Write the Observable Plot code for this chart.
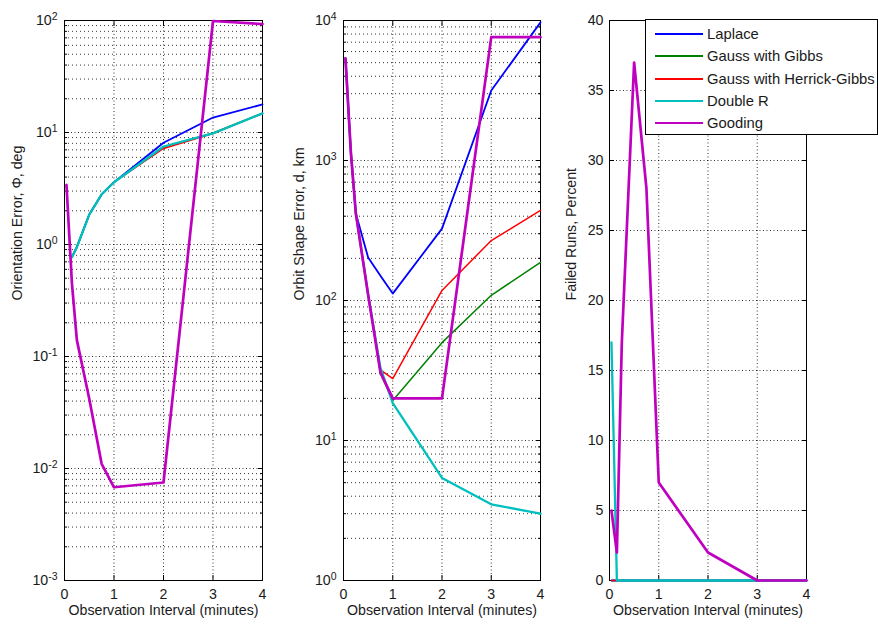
<!DOCTYPE html>
<html>
<head>
<meta charset="utf-8">
<script src="https://cdn.jsdelivr.net/npm/d3@7"></script>
<script src="https://cdn.jsdelivr.net/npm/@observablehq/plot@0.6"></script>
<style>
  html, body { margin: 0; padding: 0; background: #fff; }
  #chart { position: relative; width: 878px; height: 624px; background: #fff; font-family: 'Liberation Sans', Arial, sans-serif; }
  #chart svg { position: absolute; top: 0; }
  .legend { position: absolute; background: #fff; border: 1px solid #000; box-sizing: border-box; font-size: 14.8px; color: #1a1a1a; }
  .legend .row { position: absolute; left: 0; height: 22px; display: flex; align-items: center; white-space: nowrap; }
  .legend .sw { width: 48px; height: 2px; margin-left: 9px; margin-right: 4px; }
</style>
</head>
<body>
<div id="chart"></div>
<script>
// ---------- data ----------
const X = [0.04, 0.15, 0.25, 0.5, 0.75, 1, 2, 3, 4];            // observation interval, minutes
const X_TICKS = [0, 1, 2, 3, 4];
const METHODS = ["Laplace", "Gauss with Gibbs", "Gauss with Herrick-Gibbs", "Double R", "Gooding"];

// Orientation error, deg
const orientLaplace = [null, 0.77, 0.95, 1.85, 2.8, 3.6, 8.1, 13.6, 17.8];
const orientGibbs   = [null, 0.77, 0.95, 1.85, 2.8, 3.6, 7.4, 9.9, 14.9];
const orientHG      = [null, 0.77, 0.95, 1.85, 2.8, 3.6, 7.2, 9.8, 14.8];
const orientDoubleR = [null, 0.77, 0.95, 1.85, 2.8, 3.6, 7.5, 9.8, 14.8];
const orientGooding = [3.4, 0.45, 0.14, 0.042, 0.011, 0.0068, 0.0075, 99, 93];

// Orbit shape error, km
const shapeLaplace = [5370, 1140, 420, 203, 150, 112, 326, 3160, 9700];
const shapeGibbs   = [5370, 1140, 420, 110, 30, 19.3, 50, 109, 187];
const shapeHG      = [5370, 1140, 420, 110, 32, 27.7, 118, 268, 440];
const shapeDoubleR = [5370, 1140, 420, 110, 33, 18.5, 5.4, 3.5, 3.0];
const shapeGooding = [5370, 1140, 420, 110, 30.6, 20, 20, 7600, 7600];

// Failed runs, percent
const failLaplace = [0, 0, 0, 0, 0, 0, 0, 0, 0];
const failGibbs   = [0, 0, 0, 0, 0, 0, 0, 0, 0];
const failHG      = [0, 0, 0, 0, 0, 0, 0, 0, 0];
const failDoubleR = [17, 0, 0, 0, 0, 0, 0, 0, 0];
const failGooding = [5, 2, 17, 37, 28, 7, 2, 0, 0];

// tick values
const ORIENT_TICKS = [1e-3, 1e-2, 1e-1, 1e0, 1e1, 1e2];
const SHAPE_TICKS = [1e0, 1e1, 1e2, 1e3, 1e4];
const FAIL_TICKS = [0, 5, 10, 15, 20, 25, 30, 35, 40];

// ---------- styles ----------
const COLORS = ["#0000ff", "#008000", "#ff0000", "#00bfbf", "#bf00bf"];
const WIDTHS = [1.8, 1.5, 1.5, 2.3, 2.7];
const TEXT = "#1a1a1a";
const FONT = "'Liberation Sans', Arial, sans-serif";

function minorTicks(major) {
  const out = [];
  for (let i = 0; i < major.length - 1; i++)
    for (let k = 2; k <= 9; k++) out.push(major[i] * k);
  return out;
}
function rows(values) {
  return X.map((x, i) => ({x, y: values[i]})).filter(d => d.y != null);
}

function panel(o) {
  const grid = {stroke: "#000", strokeOpacity: 0.8, strokeWidth: 1};
  const tk = {fill: "none", label: null, stroke: "#000"};
  const marks = [];
  if (o.minor) marks.push(Plot.gridY(o.minor, {...grid, strokeDasharray: "1,3"}));
  marks.push(Plot.gridY(o.major.slice(1, -1), {...grid, strokeDasharray: "1,2.5"}));
  marks.push(Plot.gridX(X_TICKS.slice(1, -1), {...grid, strokeDasharray: "1,2.5"}));
  marks.push(Plot.frame({stroke: "#000"}));
  marks.push(Plot.axisY(o.major, {...tk, anchor: "left", tickSize: 5, dx: 5}));
  marks.push(Plot.axisY(o.major, {...tk, anchor: "right", tickSize: 5, dx: -5}));
  if (o.minor) {
    marks.push(Plot.axisY(o.minor, {...tk, anchor: "left", tickSize: 3, dx: 3}));
    marks.push(Plot.axisY(o.minor, {...tk, anchor: "right", tickSize: 3, dx: -3}));
  }
  marks.push(Plot.axisX(X_TICKS, {...tk, anchor: "bottom", tickSize: 5, dy: -5}));
  marks.push(Plot.axisX(X_TICKS, {...tk, anchor: "top", tickSize: 5, dy: 5}));
  o.series.forEach((vals, i) => {
    marks.push(Plot.line(rows(vals), {x: "x", y: "y", stroke: COLORS[i], strokeWidth: WIDTHS[i], strokeLinejoin: "round"}));
  });
  marks.push(Plot.axisY(o.major, {anchor: "left", tickSize: 0, tickPadding: o.pad, tickFormat: o.fmt, label: null, fill: TEXT}));
  marks.push(Plot.axisX(X_TICKS, {anchor: "bottom", tickSize: 0, tickPadding: 8.5, label: null, fill: TEXT}));
  marks.push(Plot.text([o.yLabel], {text: d => d, frameAnchor: "left", dx: o.labelDx, rotate: -90, fill: TEXT}));
  marks.push(Plot.text(["Observation Interval (minutes)"], {text: d => d, frameAnchor: "bottom", dy: 34.5, fill: TEXT}));
  const svg = Plot.plot({
    width: o.width, height: 624,
    marginLeft: o.mL, marginRight: o.mR, marginTop: 20, marginBottom: 44,
    x: {domain: [0, 4]},
    y: {type: o.type, domain: o.domain},
    style: {fontFamily: FONT, fontSize: "14.2px", background: "transparent", overflow: "visible"},
    marks
  });
  svg.style.left = o.left + "px";
  if (o.type === "log") {
    svg.querySelectorAll('g[aria-label="y-axis tick label"] text').forEach(t => {
      const s = t.textContent;
      const [base, exp] = s.split("^");
      t.textContent = "";
      const a = document.createElementNS("http://www.w3.org/2000/svg", "tspan");
      a.textContent = base;
      const b = document.createElementNS("http://www.w3.org/2000/svg", "tspan");
      b.textContent = exp;
      b.setAttribute("dy", "-0.5em");
      b.setAttribute("font-size", "10.5px");
      t.appendChild(a); t.appendChild(b);
    });
  }
  return svg;
}

const logFmt = d => "10^" + Math.round(Math.log10(d));
const chart = document.getElementById("chart");

chart.appendChild(panel({
  left: 0, width: 280, mL: 64, mR: 18, type: "log", domain: [1e-3, 1e2],
  major: ORIENT_TICKS, minor: minorTicks(ORIENT_TICKS), fmt: logFmt, pad: 7,
  yLabel: "Orientation Error, Φ, deg", labelDx: -47,
  series: [orientLaplace, orientGibbs, orientHG, orientDoubleR, orientGooding]
}));
chart.appendChild(panel({
  left: 280, width: 280, mL: 63, mR: 20, type: "log", domain: [1e0, 1e4],
  major: SHAPE_TICKS, minor: minorTicks(SHAPE_TICKS), fmt: logFmt, pad: 7,
  yLabel: "Orbit Shape Error, d, km", labelDx: -44,
  series: [shapeLaplace, shapeGibbs, shapeHG, shapeDoubleR, shapeGooding]
}));
chart.appendChild(panel({
  left: 560, width: 318, mL: 49, mR: 72, type: "linear", domain: [0, 40],
  major: FAIL_TICKS, minor: null, fmt: d => String(d), pad: 6,
  yLabel: "Failed Runs, Percent", labelDx: -38,
  series: [failLaplace, failGibbs, failHG, failDoubleR, failGooding]
}));

// legend
const lg = document.createElement("div");
lg.className = "legend";
Object.assign(lg.style, {left: "645px", top: "19px", width: "233px", height: "116px"});
METHODS.forEach((m, i) => {
  const r = document.createElement("div");
  r.className = "row";
  r.style.top = (3 + i * 22.3) + "px";
  const sw = document.createElement("div");
  sw.className = "sw";
  sw.style.background = COLORS[i];
  const tx = document.createElement("span");
  tx.textContent = m;
  r.appendChild(sw); r.appendChild(tx);
  lg.appendChild(r);
});
chart.appendChild(lg);
</script>
</body>
</html>
